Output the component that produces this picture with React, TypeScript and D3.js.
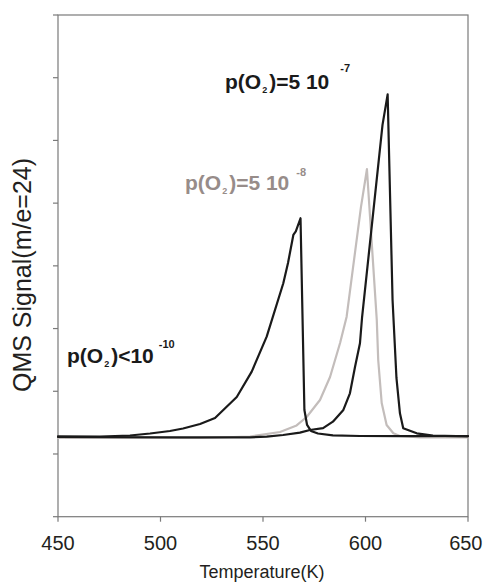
import React from "react";
import * as d3 from "d3";

// ---- data ----
const xTicks = [450, 500, 550, 600, 650];
const yTickValues = [0, 1, 2, 3, 4, 5, 6, 7, 8];

// p(O2) < 1e-10 (black, earliest peak)
const tempA = [450, 470.5, 485.1, 494.9, 504.6, 511, 519.3, 526.6, 537.2, 544.5, 551.8, 559.9, 562.2, 564.8, 566, 568.3, 570.2, 571.5, 573.4, 576.8, 584.1, 597.3, 616.8, 650];
const sigA = [1.282, 1.279, 1.295, 1.327, 1.367, 1.407, 1.478, 1.574, 1.909, 2.313, 2.871, 3.722, 4.046, 4.493, 4.549, 4.759, 1.702, 1.463, 1.367, 1.327, 1.298, 1.287, 1.284, 1.287];

// p(O2) = 5e-8 (grey)
const tempB = [450, 519.3, 543.7, 558.3, 566.4, 571.3, 577.8, 582.7, 587.6, 590.8, 593.9, 597.8, 600.7, 605.5, 606.2, 607.9, 610.3, 613.6, 616.8, 626.6, 650];
const sigB = [1.255, 1.255, 1.279, 1.351, 1.455, 1.59, 1.861, 2.228, 2.77, 3.19, 3.967, 4.94, 5.541, 3.137, 2.499, 1.813, 1.463, 1.33, 1.287, 1.263, 1.263];

// p(O2) = 5e-7 (black, latest peak)
const tempC = [450, 511, 543.7, 551.8, 559.8, 568, 572.9, 579.3, 584.1, 589.2, 592.4, 594.9, 597.3, 598.3, 608.3, 610.8, 613.2, 615.1, 616.8, 618.4, 625, 632.9, 650];
const sigC = [1.271, 1.266, 1.266, 1.276, 1.303, 1.34, 1.383, 1.413, 1.515, 1.702, 1.968, 2.392, 2.766, 3.169, 6.247, 6.734, 3.456, 2.212, 1.649, 1.41, 1.33, 1.292, 1.282];

const seriesColors = ["#1a1a1a", "#c3bdbb", "#1a1a1a"];

const W = 483;
const H = 583;
const M = { left: 58, right: 468, top: 15, bottom: 516.7 };
const FONT = "'Liberation Sans', Arial, Helvetica, sans-serif";

export default function App() {
  const x = d3.scaleLinear().domain([450, 650]).range([M.left, M.right]);
  const y = d3.scaleLinear().domain([0, 8]).range([M.bottom, M.top]);
  const line = d3
    .line<[number, number]>()
    .x((d) => x(d[0]))
    .y((d) => y(d[1]));

  const series = [
    { t: tempA, s: sigA, c: seriesColors[0] },
    { t: tempB, s: sigB, c: seriesColors[1] },
    { t: tempC, s: sigC, c: seriesColors[2] },
  ];
  const order = [1, 0, 2];

  const axisColor = "#7a7a7a";
  const textColor = "#231f20";

  return (
    <svg
      width={W}
      height={H}
      style={{ position: "absolute", left: 0, top: 0, background: "#fff" }}
      fontFamily={FONT}
    >
      {/* frame */}
      <rect
        x={M.left}
        y={M.top}
        width={M.right - M.left}
        height={M.bottom - M.top}
        fill="none"
        stroke={axisColor}
        strokeWidth={1.2}
      />
      {/* y ticks */}
      {yTickValues.map((v) => (
        <line key={"yt" + v} x1={M.left - 5} x2={M.left} y1={y(v)} y2={y(v)} stroke={axisColor} strokeWidth={1.2} />
      ))}
      {/* x ticks */}
      {xTicks.map((v, i) => (
        <g key={"xt" + v}>
          <line x1={x(v)} x2={x(v)} y1={M.bottom} y2={M.bottom + 5} stroke={axisColor} strokeWidth={1.2} />
          <text
            x={i === xTicks.length - 1 ? W - 0.5 : x(v)}
            y={550}
            textAnchor={i === xTicks.length - 1 ? "end" : "middle"}
            fontSize={20}
            fill={textColor}
          >
            {v}
          </text>
        </g>
      ))}
      {/* curves */}
      {order.map((i) => {
        const sr = series[i];
        const pts = sr.t.map((t, k) => [t, sr.s[k]] as [number, number]);
        return (
          <path
            key={"s" + i}
            d={line(pts) || ""}
            fill="none"
            stroke={sr.c}
            strokeWidth={2.2}
            strokeLinejoin="round"
            strokeLinecap="round"
          />
        );
      })}
      {/* axis titles */}
      <text x={262} y={578} textAnchor="middle" fontSize={18} fill={textColor}>
        Temperature(K)
      </text>
      <text
        transform="translate(31,275) rotate(-90)"
        textAnchor="middle"
        fontSize={25}
        fill={textColor}
      >
        QMS Signal(m/e=24)
      </text>
      {/* annotations */}
      <text x={225} y={89} fontSize={21} fontWeight="bold" fill="#1a1a1a">
        p(O
        <tspan fontSize={9} dy={4} dx={1}>2</tspan>
        <tspan fontSize={21} dy={-4} dx={2}>)=5 10</tspan>
        <tspan fontSize={11} dy={-17} dx={11}>-7</tspan>
      </text>
      <text x={185} y={190} fontSize={21} fontWeight="bold" fill="#978c89">
        p(O
        <tspan fontSize={9} dy={4} dx={1}>2</tspan>
        <tspan fontSize={21} dy={-4} dx={2}>)=5 10</tspan>
        <tspan fontSize={11} dy={-14} dx={7}>-8</tspan>
      </text>
      <text x={67} y={363} fontSize={21} fontWeight="bold" fill="#1a1a1a">
        p(O
        <tspan fontSize={9} dy={4} dx={1}>2</tspan>
        <tspan fontSize={21} dy={-4} dx={2}>)&lt;10</tspan>
        <tspan fontSize={11} dy={-15} dx={5}>-10</tspan>
      </text>
    </svg>
  );
}
